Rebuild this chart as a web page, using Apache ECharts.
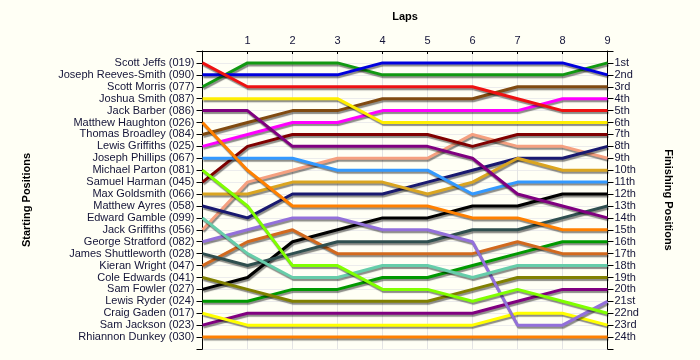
<!DOCTYPE html>
<html>
<head>
<meta charset="utf-8">
<script src="https://cdn.jsdelivr.net/npm/echarts@6/dist/echarts.min.js"></script>
<style>
html,body{margin:0;padding:0;background:#FFFFF5;}
#c{width:700px;height:360px;}
</style>
</head>
<body>
<div id="c"></div>
<script>
const laps = [0, 1, 2, 3, 4, 5, 6, 7, 8, 9];
const lapLabels = ['', '1', '2', '3', '4', '5', '6', '7', '8', '9'];
const drivers = [
  'Scott Jeffs (019)', 'Joseph Reeves-Smith (090)', 'Scott Morris (077)', 'Joshua Smith (087)',
  'Jack Barber (086)', 'Matthew Haughton (026)', 'Thomas Broadley (084)', 'Lewis Griffiths (025)',
  'Joseph Phillips (067)', 'Michael Parton (081)', 'Samuel Harman (045)', 'Max Goldsmith (066)',
  'Matthew Ayres (058)', 'Edward Gamble (099)', 'Jack Griffiths (056)', 'George Stratford (082)',
  'James Shuttleworth (028)', 'Kieran Wright (047)', 'Cole Edwards (041)', 'Sam Fowler (027)',
  'Lewis Ryder (024)', 'Craig Gaden (017)', 'Sam Jackson (023)', 'Rhiannon Dunkey (030)'
];
const finishLabels = ['1st','2nd','3rd','4th','5th','6th','7th','8th','9th','10th','11th','12th',
  '13th','14th','15th','16th','17th','18th','19th','20th','21st','22nd','23rd','24th'];
// positions per lap (lap 0 .. lap 9), one row per driver in starting order
const positions = [
  [1, 3, 3, 3, 3, 3, 3, 4, 5, 5],
  [2, 2, 2, 2, 1, 1, 1, 1, 1, 2],
  [3, 1, 1, 1, 2, 2, 2, 2, 2, 1],
  [4, 4, 4, 4, 6, 6, 6, 6, 6, 6],
  [5, 5, 8, 8, 8, 8, 9, 12, 13, 14],
  [6, 10, 13, 13, 13, 13, 14, 14, 15, 15],
  [7, 6, 5, 5, 4, 4, 4, 3, 3, 3],
  [8, 7, 6, 6, 5, 5, 5, 5, 4, 4],
  [9, 9, 9, 10, 10, 10, 12, 11, 11, 11],
  [10, 13, 18, 18, 20, 20, 21, 20, 21, 22],
  [11, 8, 7, 7, 7, 7, 8, 7, 7, 7],
  [12, 12, 11, 11, 11, 12, 11, 9, 10, 10],
  [13, 14, 12, 12, 12, 11, 10, 9, 9, 8],
  [14, 17, 19, 19, 18, 18, 19, 18, 18, 18],
  [15, 11, 10, 9, 9, 9, 7, 8, 8, 9],
  [16, 15, 14, 14, 15, 15, 16, 23, 23, 21],
  [17, 18, 17, 16, 16, 16, 15, 15, 14, 13],
  [18, 16, 15, 17, 17, 17, 17, 16, 17, 17],
  [19, 20, 21, 21, 21, 21, 20, 19, 19, 19],
  [20, 19, 16, 15, 14, 14, 13, 13, 12, 12],
  [21, 21, 20, 20, 19, 19, 18, 17, 16, 16],
  [22, 23, 23, 23, 23, 23, 23, 22, 22, 23],
  [23, 22, 22, 22, 22, 22, 22, 21, 20, 20],
  [24, 24, 24, 24, 24, 24, 24, 24, 24, 24]
];
const colors = [
  '#EE1111', '#0000DD', '#119911', '#FFEE00', '#800080', '#FF8000', '#804A10', '#FF00FF',
  '#3399FF', '#80FF00', '#800000', '#DAA520', '#191970', '#66CDAA', '#F5A080', '#9370DB',
  '#2F4F4F', '#D2691E', '#808000', '#000000', '#009900', '#FFFF00', '#800080', '#FF8000'
];

const txt = '#141438';
const font = 'Liberation Sans, Arial, sans-serif';
const chart = echarts.init(document.getElementById('c'), null, {renderer: 'canvas'});
const series = drivers.map((name, i) => ({
  name: name,
  type: 'line',
  symbol: 'none',
  data: laps.map((l, j) => [l, positions[i][j]]),
  lineStyle: {
    color: colors[i], width: 3,
    shadowColor: 'rgba(0,0,0,0.45)', shadowOffsetY: 2, shadowOffsetX: 1, shadowBlur: 1
  },
  itemStyle: {color: colors[i]},
  z: 2 + (drivers.length - i) * 0.01
}));

chart.setOption({
  backgroundColor: '#FFFFF5',
  animation: false,
  grid: {left: 202.5, right: 92.5, top: 51, bottom: 11, containLabel: false},
  xAxis: {
    type: 'value', position: 'top', min: 0, max: 9, interval: 1,
    name: 'Laps', nameLocation: 'middle', nameGap: 29,
    nameTextStyle: {fontFamily: font, fontSize: 11, fontWeight: 'bold', color: '#000'},
    axisLine: {show: true, lineStyle: {color: '#000', width: 1}},
    axisTick: {show: true, inside: true, length: 3, lineStyle: {color: '#000'}},
    axisLabel: {fontFamily: font, fontSize: 11, color: txt, margin: 5,
      formatter: v => lapLabels[v] || ''},
    splitLine: {show: true, lineStyle: {color: '#E4E4E4', width: 1}}
  },
  yAxis: [
    {
      type: 'value', min: 0, max: 25, interval: 1, inverse: true, position: 'left',
      name: 'Starting Positions', nameLocation: 'middle', nameGap: 170, nameRotate: 90,
      nameTextStyle: {fontFamily: font, fontSize: 11, fontWeight: 'bold', color: '#000'},
      axisLine: {show: true, lineStyle: {color: '#000', width: 1}},
      axisTick: {show: true, length: 6, lineStyle: {color: '#000'}},
      axisLabel: {fontFamily: font, fontSize: 11, color: txt, margin: 8,
        formatter: v => (v >= 1 && v <= 24) ? drivers[v - 1] : ''},
      splitLine: {show: true, lineStyle: {color: '#ECECEC', width: 1}}
    },
    {
      type: 'value', min: 0, max: 25, interval: 1, inverse: true, position: 'right',
      name: 'Finishing Positions', nameLocation: 'middle', nameGap: 55, nameRotate: -90,
      nameTextStyle: {fontFamily: font, fontSize: 11, fontWeight: 'bold', color: '#000'},
      axisLine: {show: true, lineStyle: {color: '#000', width: 1}},
      axisTick: {show: true, length: 6, lineStyle: {color: '#000'}},
      axisLabel: {fontFamily: font, fontSize: 11, color: txt, margin: 7,
        formatter: v => (v >= 1 && v <= 24) ? finishLabels[v - 1] : ''},
      splitLine: {show: false}
    }
  ],
  series: series
});
</script>
</body>
</html>
